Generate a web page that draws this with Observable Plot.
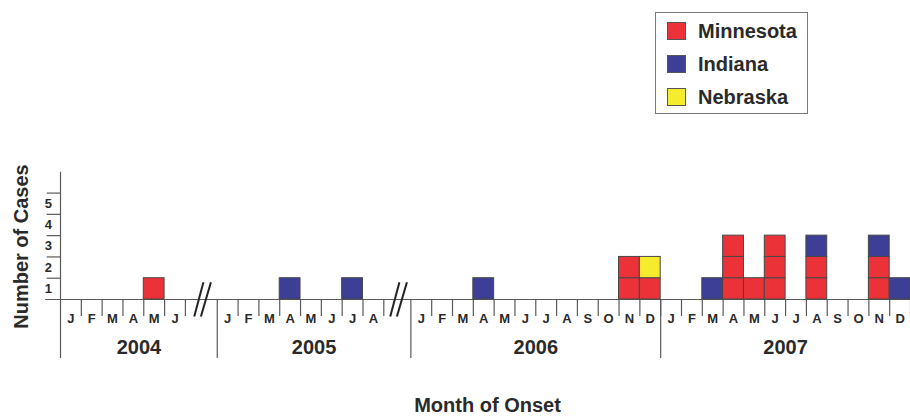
<!DOCTYPE html>
<html>
<head>
<meta charset="utf-8">
<script src="https://cdn.jsdelivr.net/npm/d3@7"></script>
<script src="https://cdn.jsdelivr.net/npm/@observablehq/plot@0.6"></script>
<style>
  html, body { margin: 0; padding: 0; background: #fff; overflow: hidden; }
  body { font-family: "Liberation Sans", Arial, sans-serif; width: 910px; }
  #legendWrap { position: relative; height: 120px; }
  #legend { position: absolute; left: 655px; top: 12px; width: 151px; height: 99px;
            border: 1px solid #7a7a7a; padding-top: 1px; box-sizing: content-box; }
  .row { display: flex; align-items: center; height: 33px; }
  .sw { width: 19px; height: 18px; margin-left: 11px; box-sizing: border-box; border: 1px solid #555; }
  .lab { margin-left: 12px; font-weight: bold; font-size: 20px; color: #2a2a2a; line-height: 1; }
  #chart svg { display: block; }
</style>
</head>
<body>
<div id="legendWrap"><div id="legend"></div></div>
<div id="chart"></div>
<script>
// ---- data ----
const states = ["Minnesota", "Indiana", "Nebraska"];
const stateColors = ["#ec3239", "#3d3f97", "#f4ec2c"];
const years = [2004, 2005, 2006, 2007];
const monthsShown = [6, 8, 12, 12];
const monthLetters = ["J", "F", "M", "A", "M", "J", "J", "A", "S", "O", "N", "D"];
const yTicks = [1, 2, 3, 4, 5];
const onsetYear  = [2004, 2005, 2005, 2006, 2006, 2006, 2007, 2007, 2007, 2007, 2007, 2007, 2007];
const onsetMonth = [5, 4, 7, 4, 11, 12, 3, 4, 5, 6, 8, 11, 12];
const minnesota  = [1, 0, 0, 0, 2, 1, 0, 3, 1, 3, 2, 2, 0];
const indiana    = [0, 1, 1, 1, 0, 0, 1, 0, 0, 0, 1, 1, 1];
const nebraska   = [0, 0, 0, 0, 0, 1, 0, 0, 0, 0, 0, 0, 0];

// ---- layout (axis breaks between year segments) ----
const gapAfter = [1.53, 1.30, 0, 0];
const starts = [0];
for (let i = 0; i < years.length; i++) starts.push(starts[i] + monthsShown[i] + gapAfter[i]);
const xEnd = starts[years.length];

// legend
const legend = document.getElementById("legend");
states.forEach((s, i) => {
  const row = document.createElement("div");
  row.className = "row";
  row.innerHTML = `<div class="sw" style="background:${stateColors[i]}"></div><div class="lab">${s}</div>`;
  legend.appendChild(row);
});

// cells: one square per case, stacked Minnesota, Indiana, Nebraska
const series = [minnesota, indiana, nebraska];
const cells = [];
onsetYear.forEach((yr, j) => {
  const slot = starts[years.indexOf(yr)] + onsetMonth[j] - 1;
  let level = 0;
  series.forEach((arr, s) => {
    for (let k = 0; k < arr[j]; k++) {
      cells.push({x1: slot, x2: slot + 1, y1: level, y2: level + 1, state: states[s]});
      level++;
    }
  });
});

const monthCells = [];
const monthTicks = [];
years.forEach((yr, i) => {
  for (let m = 0; m < monthsShown[i]; m++) {
    monthCells.push({x: starts[i] + m + 0.5, label: monthLetters[m]});
    monthTicks.push(starts[i] + m + 1);
  }
});
const yearLabels = years.map((yr, i) => ({x: (starts[i] + (i < years.length - 1 ? starts[i + 1] : xEnd)) / 2, year: String(yr)}));

const slashes = [];
[0, 1].forEach(i => {
  const c = starts[i] + monthsShown[i] + gapAfter[i] / 2;
  slashes.push({x1: c - 0.34, y1: -0.8, x2: c + 0.10, y2: 0.81});
  slashes.push({x1: c - 0.02, y1: -0.8, x2: c + 0.46, y2: 0.81});
});

const lineColor = "#5a5a5a";
const textColor = "#2a2a2a";
const font = "Liberation Sans, Arial, sans-serif";

const chart = Plot.plot({
  width: 910,
  height: 297,
  margin: 0,
  style: {fontFamily: font, background: "#fff", overflow: "visible"},
  x: {type: "linear", domain: [0, xEnd], range: [60, 910], axis: null},
  y: {type: "linear", domain: [0, 6], range: [179, 51.3], axis: null},
  color: {domain: states, range: stateColors},
  marks: [
    Plot.ruleY([0], {x1: -0.72, x2: xEnd, stroke: lineColor, strokeWidth: 1.2}),
    Plot.ruleY(yTicks, {x1: -0.64, x2: 0, stroke: lineColor, strokeWidth: 1.2}),
    Plot.ruleX([0], {y1: -2.77, y2: 5.98, stroke: lineColor, strokeWidth: 1.2}),
    Plot.ruleX(starts.slice(1, years.length), {y1: -2.77, y2: 0, stroke: lineColor, strokeWidth: 1.2}),
    Plot.ruleX(monthTicks, {y1: -0.8, y2: 0, stroke: lineColor, strokeWidth: 1.2}),
    Plot.rect(cells, {x1: "x1", x2: "x2", y1: "y1", y2: "y2", fill: "state", stroke: "#474747", strokeWidth: 1}),
    Plot.link(slashes, {x1: "x1", y1: "y1", x2: "x2", y2: "y2", stroke: "#222", strokeWidth: 2}),
    Plot.text(yTicks, {x: -0.58, y: d => d - 0.5, text: d => String(d), fontSize: 13, fontWeight: "bold", fill: textColor}),
    Plot.text(monthCells, {x: "x", y: -0.89, text: "label", fontSize: 13, fontWeight: "bold", fill: textColor}),
    Plot.text(yearLabels, {x: "x", y: -2.26, text: "year", fontSize: 20, fontWeight: "bold", fill: textColor}),
    Plot.text(["Number of Cases"], {frameAnchor: "left", textAnchor: "middle", lineAnchor: "middle", rotate: -90, dx: 21, dy: -22.5, fontSize: 20, fontWeight: "bold", fill: textColor}),
    Plot.text(["Month of Onset"], {frameAnchor: "bottom", textAnchor: "middle", lineAnchor: "middle", dx: 32, dy: -12, fontSize: 20, fontWeight: "bold", fill: textColor})
  ]
});
document.getElementById("chart").appendChild(chart);
</script>
</body>
</html>
